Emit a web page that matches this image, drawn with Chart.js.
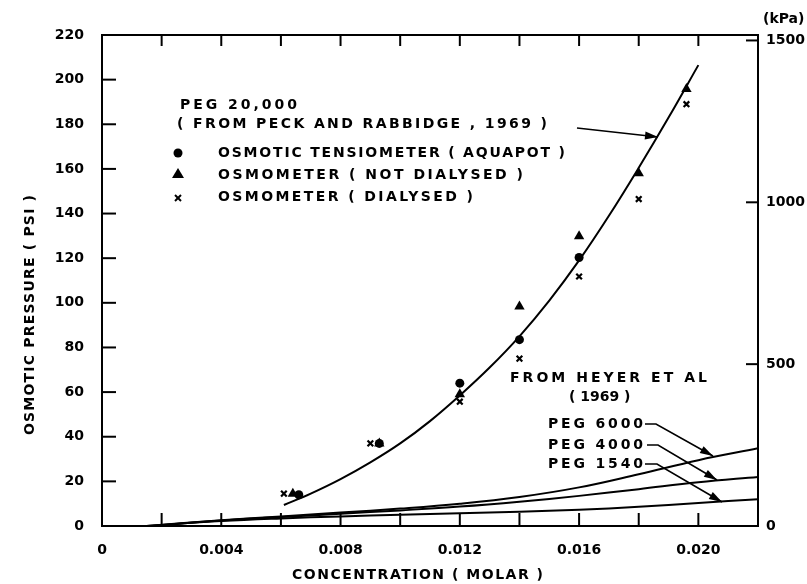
<!DOCTYPE html>
<html>
<head>
<title>Osmotic pressure</title>
<script src="https://cdn.jsdelivr.net/npm/chart.js"></script>
<style>
  body { margin: 0; background: #fff; }
  #wrap { width: 807px; height: 584px; }
</style>
</head>
<body>
<div id="wrap"><canvas id="myChart" width="807" height="584"></canvas></div>
<script>
// ---- data ----
const xTickValues = [0, 0.002, 0.004, 0.006, 0.008, 0.010, 0.012, 0.014, 0.016, 0.018, 0.020, 0.022];
const xTickLabels = ['0', '', '0.004', '', '0.008', '', '0.012', '', '0.016', '', '0.020', ''];
const psiTicks = [0, 20, 40, 60, 80, 100, 120, 140, 160, 180, 200, 220];
const kpaTicks = [0, 500, 1000, 1500];
const kpaPerPsi = 6.894757;

// PEG 20,000 fitted curve
const peg20kConc = [0.0061, 0.007, 0.008, 0.009, 0.010, 0.011, 0.012, 0.013, 0.014, 0.015, 0.016, 0.017, 0.018, 0.019, 0.020];
const peg20kPsi  = [9.4, 14.5, 21, 28.5, 37, 47, 58.5, 71, 85, 101, 119, 139, 160.5, 183, 206.5];

// measured points
const tensioConc = [0.0066, 0.0093, 0.012, 0.014, 0.016];
const tensioPsi  = [14, 37, 64, 83.5, 120.3];
const notDialConc = [0.0064, 0.0093, 0.012, 0.014, 0.016, 0.018, 0.0196];
const notDialPsi  = [14.5, 37, 59, 98.3, 129.8, 158, 195.8];
const dialConc = [0.0061, 0.0090, 0.012, 0.014, 0.016, 0.018, 0.0196];
const dialPsi  = [14.5, 37, 55.7, 75, 111.8, 146.5, 189];

// Heyer et al (1969)
const heyerConc = [0.0015, 0.004, 0.006, 0.008, 0.010, 0.012, 0.014, 0.016, 0.018, 0.020, 0.022];
const peg6000Psi = [0, 2.6, 4.3, 6.0, 7.8, 10, 13, 17.3, 23.2, 29.5, 34.8];
const peg4000Psi = [0, 2.5, 4.0, 5.5, 7.0, 8.7, 10.9, 13.5, 16.5, 19.6, 22];
const peg1540Psi = [0, 2.2, 3.4, 4.3, 5.0, 5.7, 6.4, 7.3, 8.6, 10.3, 12];

function pts(xs, ys) { return xs.map((x, i) => ({ x: x, y: ys[i] })); }

const FONT = 'DejaVu Sans';
Chart.defaults.font.family = FONT;
Chart.defaults.font.weight = 'bold';
Chart.defaults.font.size = 14;
Chart.defaults.color = '#000';

function curve(label, xs, ys) {
  return { label: label, data: pts(xs, ys), showLine: true, pointRadius: 0,
           borderColor: '#000', borderWidth: 2, tension: 0.4, fill: false };
}

// text with spread letters to a given width
function spaced(ctx, text, x, y, width) {
  ctx.letterSpacing = '0px';
  const w = ctx.measureText(text).width;
  const sp = Math.max(0, (width - w) / (text.length - 1));
  ctx.letterSpacing = sp + 'px';
  ctx.fillText(text, x, y);
  ctx.letterSpacing = '0px';
}

function arrow(ctx, path) {
  ctx.beginPath();
  ctx.moveTo(path[0][0], path[0][1]);
  for (let i = 1; i < path.length; i++) ctx.lineTo(path[i][0], path[i][1]);
  ctx.lineWidth = 1.6;
  ctx.stroke();
  const [x1, y1] = path[path.length - 2];
  const [x2, y2] = path[path.length - 1];
  const a = Math.atan2(y2 - y1, x2 - x1);
  const L = 13, W = 4;
  ctx.beginPath();
  ctx.moveTo(x2, y2);
  ctx.lineTo(x2 - L * Math.cos(a) + W * Math.sin(a), y2 - L * Math.sin(a) - W * Math.cos(a));
  ctx.lineTo(x2 - L * Math.cos(a) - W * Math.sin(a), y2 - L * Math.sin(a) + W * Math.cos(a));
  ctx.closePath();
  ctx.fill();
}

const framePlugin = {
  id: 'frame',
  afterDraw(chart) {
    const { ctx, chartArea: a, scales } = chart;
    ctx.save();
    ctx.strokeStyle = '#000';
    ctx.fillStyle = '#000';
    ctx.lineWidth = 2;
    ctx.strokeRect(a.left, a.top, a.width, a.height);
    const line = (x1, y1, x2, y2) => { ctx.beginPath(); ctx.moveTo(x1, y1); ctx.lineTo(x2, y2); ctx.stroke(); };
    scales.x.ticks.forEach(t => {
      const p = scales.x.getPixelForValue(t.value);
      line(p, a.bottom, p, a.bottom - 13);
      line(p, a.top, p, a.top + 11);
    });
    scales.y.ticks.forEach(t => {
      const p = scales.y.getPixelForValue(t.value);
      line(a.left, p, a.left + 14, p);
    });
    scales.y2.ticks.forEach(t => {
      const p = scales.y2.getPixelForValue(t.value);
      line(a.right, p, a.right - 12, p);
    });

    // annotations
    ctx.font = 'bold 14px "' + FONT + '"';
    ctx.textBaseline = 'middle';
    ctx.textAlign = 'left';
    spaced(ctx, 'PEG 20,000', 180, 105, 117);
    spaced(ctx, '( FROM PECK AND RABBIDGE , 1969 )', 177, 124, 370);
    spaced(ctx, 'OSMOTIC TENSIOMETER ( AQUAPOT )', 218, 153, 347);
    spaced(ctx, 'OSMOMETER ( NOT DIALYSED )', 218, 175, 305);
    spaced(ctx, 'OSMOMETER ( DIALYSED )', 218, 197, 255);
    spaced(ctx, 'FROM HEYER ET AL', 510, 378, 197);
    spaced(ctx, '( 1969 )', 569, 397, 61);
    spaced(ctx, 'PEG 6000', 548, 424, 95);
    spaced(ctx, 'PEG 4000', 548, 445, 95);
    spaced(ctx, 'PEG 1540', 548, 464, 95);
    spaced(ctx, 'CONCENTRATION ( MOLAR )', 292, 575, 251);
    spaced(ctx, '(kPa)', 763, 19, 40);

    ctx.save();
    ctx.translate(30, 315);
    ctx.rotate(-Math.PI / 2);
    spaced(ctx, 'OSMOTIC PRESSURE ( PSI )', -120, 0, 240);
    ctx.restore();

    // legend symbols
    ctx.beginPath(); ctx.arc(178, 153, 4.5, 0, Math.PI * 2); ctx.fill();
    ctx.beginPath(); ctx.moveTo(178, 168); ctx.lineTo(184, 178); ctx.lineTo(172, 178); ctx.closePath(); ctx.fill();
    ctx.lineWidth = 2;
    line(175, 195, 181, 201); line(181, 195, 175, 201);

    // arrows
    arrow(ctx, [[577, 128], [658, 137]]);
    arrow(ctx, [[645, 424], [656, 424], [713, 456]]);
    arrow(ctx, [[647, 445], [658, 445], [717, 480]]);
    arrow(ctx, [[645, 464], [657, 464], [722, 502]]);
    ctx.restore();
  }
};

new Chart(document.getElementById('myChart'), {
  type: 'scatter',
  data: {
    datasets: [
      curve('PEG 20,000', peg20kConc, peg20kPsi),
      curve('PEG 6000', heyerConc, peg6000Psi),
      curve('PEG 4000', heyerConc, peg4000Psi),
      curve('PEG 1540', heyerConc, peg1540Psi),
      { label: 'Osmotic tensiometer (Aquapot)', data: pts(tensioConc, tensioPsi),
        pointStyle: 'circle', pointRadius: 4.5, backgroundColor: '#000', borderColor: '#000', borderWidth: 0 },
      { label: 'Osmometer (not dialysed)', data: pts(notDialConc, notDialPsi),
        pointStyle: 'triangle', pointRadius: 6, backgroundColor: '#000', borderColor: '#000', borderWidth: 0 },
      { label: 'Osmometer (dialysed)', data: pts(dialConc, dialPsi),
        pointStyle: 'crossRot', pointRadius: 4, borderColor: '#000', borderWidth: 2.2 }
    ]
  },
  options: {
    responsive: false,
    animation: false,
    layout: { padding: { top: 35, left: 0, right: 0, bottom: 0 } },
    plugins: { legend: { display: false }, tooltip: { enabled: false } },
    scales: {
      x: {
        type: 'linear', min: 0, max: 0.022,
        grid: { display: false }, border: { display: false },
        afterBuildTicks: s => { s.ticks = xTickValues.map(v => ({ value: v })); },
        afterFit: s => { s.height = 58; },
        ticks: { padding: 8, maxRotation: 0, autoSkip: false,
                 callback: (v, i) => xTickLabels[i] }
      },
      y: {
        position: 'left', min: 0, max: 220,
        grid: { display: false }, border: { display: false },
        afterBuildTicks: s => { s.ticks = psiTicks.map(v => ({ value: v })); },
        afterFit: s => { s.width = 102; },
        ticks: { padding: 10 }
      },
      y2: {
        position: 'right', min: 0, max: 220 * kpaPerPsi,
        grid: { display: false }, border: { display: false },
        afterBuildTicks: s => { s.ticks = kpaTicks.map(v => ({ value: v })); },
        afterFit: s => { s.width = 49; },
        ticks: { padding: 0, callback: v => String(v) }
      }
    }
  },
  plugins: [framePlugin]
});
</script>
</body>
</html>
